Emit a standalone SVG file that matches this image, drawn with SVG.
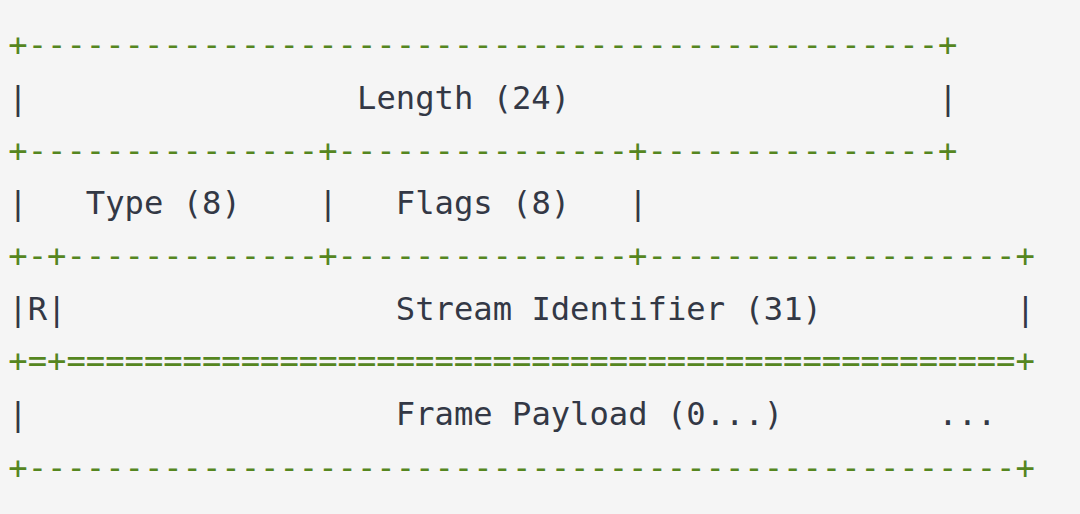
<svg xmlns="http://www.w3.org/2000/svg" width="1080" height="514" viewBox="0 0 1080 514">
  <style>
    text { font-family: "DejaVu Sans Mono", "Liberation Mono", monospace; font-size: 32.18px; }
    .rule { fill: #55861f; }
    .lbl { fill: #333845; }
  </style>
  <rect x="0" y="0" width="1080" height="514" fill="#f5f5f5"/>
  <g id="connectors">
    <text class="rule" x="8.31" y="55.5">+-----------------------------------------------+</text>
    <text class="rule" x="8.31" y="161.5">+---------------+---------------+---------------+</text>
    <text class="rule" x="8.31" y="266.5">+-+-------------+---------------+-------------------+</text>
    <text class="rule" x="8.31" y="372">+=+=================================================+</text>
    <text class="rule" x="8.31" y="479">+---------------------------------------------------+</text>
  </g>
  <g id="length">
    <text class="lbl" x="8.31" y="108.5">|</text>
    <text class="lbl" x="357.06" y="108.5">Length (24)</text>
    <text class="lbl" x="938.31" y="108.5">|</text>
  </g>
  <g id="type">
    <text class="lbl" x="8.31" y="214">|</text>
    <text class="lbl" x="85.81" y="214">Type (8)</text>
    <text class="lbl" x="318.31" y="214">|</text>
  </g>
  <g id="flags">
    <text class="lbl" x="395.81" y="214">Flags (8)</text>
    <text class="lbl" x="628.31" y="214">|</text>
  </g>
  <g id="reserved">
    <text class="lbl" x="8.31" y="319.5">|R|</text>
  </g>
  <g id="stream-identifier">
    <text class="lbl" x="395.81" y="319.5">Stream Identifier (31)</text>
    <text class="lbl" x="1015.81" y="319.5">|</text>
  </g>
  <g id="frame-payload">
    <text class="lbl" x="8.31" y="425">|</text>
    <text class="lbl" x="395.81" y="425">Frame Payload (0...)</text>
    <text class="lbl" x="938.31" y="425">...</text>
  </g>
</svg>
